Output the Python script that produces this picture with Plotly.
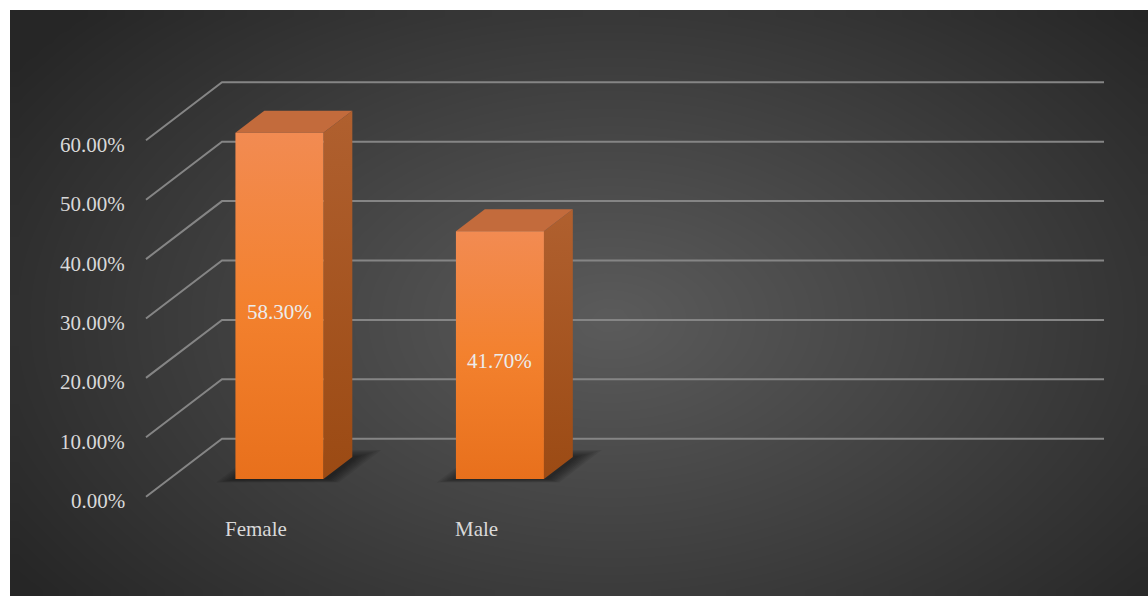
import numpy as np
import plotly.graph_objects as go

# ---- data -------------------------------------------------------------
categories = ["Female", "Male"]
shares = [58.30, 41.70]  # percent of respondents
tick_values = [0, 10, 20, 30, 40, 50, 60]
tick_labels = ["0.00%", "10.00%", "20.00%", "30.00%", "40.00%", "50.00%", "60.00%"]

# ---- 3-D projection setup ---------------------------------------------
W, H = 1148, 596
N_SLOTS = 4            # category slots along the floor (last two are empty)
SLOT_PX = 220.5        # screen width of one category slot
PCT_PX = 5.94          # screen height of one percentage point
FRONT_X0_PX = 146.0    # screen x of the front-left corner of the floor
FRONT_Y0_PX = 496.7    # screen y of 0 % on the front plane
DEPTH_DX_PX, DEPTH_DY_PX = 76.0, 58.0  # screen shift from front to back wall

DX = DEPTH_DX_PX / SLOT_PX   # depth shift in slot units
DY = DEPTH_DY_PX / PCT_PX    # depth shift in percent units

x_range = [-0.5 - FRONT_X0_PX / SLOT_PX, -0.5 + (W - FRONT_X0_PX) / SLOT_PX]
y_range = [-(H - FRONT_Y0_PX) / PCT_PX, FRONT_Y0_PX / PCT_PX]

BAR_W = 88.0 / SLOT_PX   # bar width in slot units
D_FRONT, D_BACK = 0.305, 0.685  # bar depth as a fraction of the floor depth


def proj(x, y, d):
    """Project (slot x, value y, depth fraction d) onto the flat axes."""
    return x + d * DX, y + d * DY


def px_to_data(px, py):
    return (-0.5 + (px - FRONT_X0_PX) / SLOT_PX,
            (FRONT_Y0_PX - py) / PCT_PX)


fig = go.Figure()

# ---- dark panel with a soft radial glow -------------------------------
ex = np.linspace(10, W, 71)          # cell edges
ey = np.linspace(10, H, 47)
cxp = (ex[:-1] + ex[1:]) / 2         # cell centres
cyp = (ey[:-1] + ey[1:]) / 2
PX, PY = np.meshgrid(cxp, cyp)
r = np.sqrt(((PX - 610) / 720.0) ** 2 + ((PY - 320) / 450.0) ** 2)
glow = np.clip(1 - r, 0, 1) ** 1.0
hx = [px_to_data(v, 0)[0] for v in ex]
hy = [px_to_data(0, v)[1] for v in ey]
fig.add_trace(go.Heatmap(
    x=hx, y=hy, z=glow, zsmooth="best", showscale=False, hoverinfo="skip",
    colorscale=[[0, "#262626"], [0.5, "#414141"], [1, "#5b5b5b"]],
    zmin=0, zmax=1,
))

# ---- gridlines: left wall diagonal + back wall horizontal --------------
gl_x, gl_y = [], []
x_left, x_right = -0.5, -0.5 + N_SLOTS
for t in tick_values:
    a = proj(x_left, t, 0)
    b = proj(x_left, t, 1)
    c = proj(x_right, t, 1)
    gl_x += [a[0], b[0], c[0], None]
    gl_y += [a[1], b[1], c[1], None]
fig.add_trace(go.Scatter(
    x=gl_x, y=gl_y, mode="lines", hoverinfo="skip",
    line=dict(color="#858585", width=2),
))

# ---- bars -------------------------------------------------------------
def poly(pts, **kw):
    xs = [p[0] for p in pts] + [pts[0][0]]
    ys = [p[1] for p in pts] + [pts[0][1]]
    fig.add_trace(go.Scatter(x=xs, y=ys, mode="lines", fill="toself",
                             line=dict(width=0), hoverinfo="skip", **kw))


for i, v in enumerate(shares):
    xl, xr = i - BAR_W / 2, i + BAR_W / 2

    # soft floor shadow, stacked translucent layers
    for k in range(7):
        e = 0.006 + 0.011 * k
        ed = 0.02 + 0.03 * k
        sh = 0.018
        pts = [proj(xl - e + sh * 0.3, 0, D_FRONT - ed * 0.3),
               proj(xr + e + sh, 0, D_FRONT - ed * 0.3),
               proj(xr + e + sh, 0, D_BACK + ed * 0.6),
               proj(xl - e + sh * 0.3, 0, D_BACK + ed * 0.6)]
        poly(pts, fillcolor="rgba(0,0,0,0.075)")

    # right side face
    side = [proj(xr, 0, D_FRONT), proj(xr, 0, D_BACK),
            proj(xr, v, D_BACK), proj(xr, v, D_FRONT)]
    poly(side, fillgradient=dict(
        type="vertical", start=0, stop=v + D_BACK * DY,
        colorscale=[[0, "#9a4912"], [1, "#b0602f"]]))

    # top face
    top = [proj(xl, v, D_FRONT), proj(xr, v, D_FRONT),
           proj(xr, v, D_BACK), proj(xl, v, D_BACK)]
    poly(top, fillcolor="#c36b3c")

    # front face
    y0 = proj(0, 0, D_FRONT)[1]
    front = [proj(xl, 0, D_FRONT), proj(xr, 0, D_FRONT),
             proj(xr, v, D_FRONT), proj(xl, v, D_FRONT)]
    poly(front, fillgradient=dict(
        type="vertical", start=y0, stop=y0 + v,
        colorscale=[[0, "#e8701c"], [0.5, "#f3812e"], [1, "#f28b52"]]))

FONT = "Liberation Serif, Times New Roman, serif"
annotations = []

# value labels in the middle of each bar's front face
for i, v in enumerate(shares):
    cx, cy = proj(i, v / 2, D_FRONT)
    annotations.append(dict(
        x=cx, y=cy, text=f"{v:.2f}%", showarrow=False, yshift=-6,
        font=dict(family=FONT, size=21, color="#ececec")))

# percentage axis labels at the front edge of the left wall
for t, lab in zip(tick_values, tick_labels):
    ax, ay = proj(x_left, t, 0)
    annotations.append(dict(
        x=ax, y=ay, text=lab, showarrow=False, xanchor="right",
        xshift=-19, yshift=-4.5,
        font=dict(family=FONT, size=21, color="#d9d9d9")))

# category labels beneath the floor
for i, name in enumerate(categories):
    cx, cy = proj(i, 0, 0)
    annotations.append(dict(
        x=cx, y=cy, text=name, showarrow=False, yshift=-32,
        font=dict(family=FONT, size=21, color="#d9d9d9")))

fig.update_layout(
    width=W, height=H,
    margin=dict(l=0, r=0, t=0, b=0),
    paper_bgcolor="white", plot_bgcolor="white",
    showlegend=False,
    xaxis=dict(range=x_range, visible=False, fixedrange=True),
    yaxis=dict(range=y_range, visible=False, fixedrange=True),
    annotations=annotations,
)

fig.write_html("out.html")
